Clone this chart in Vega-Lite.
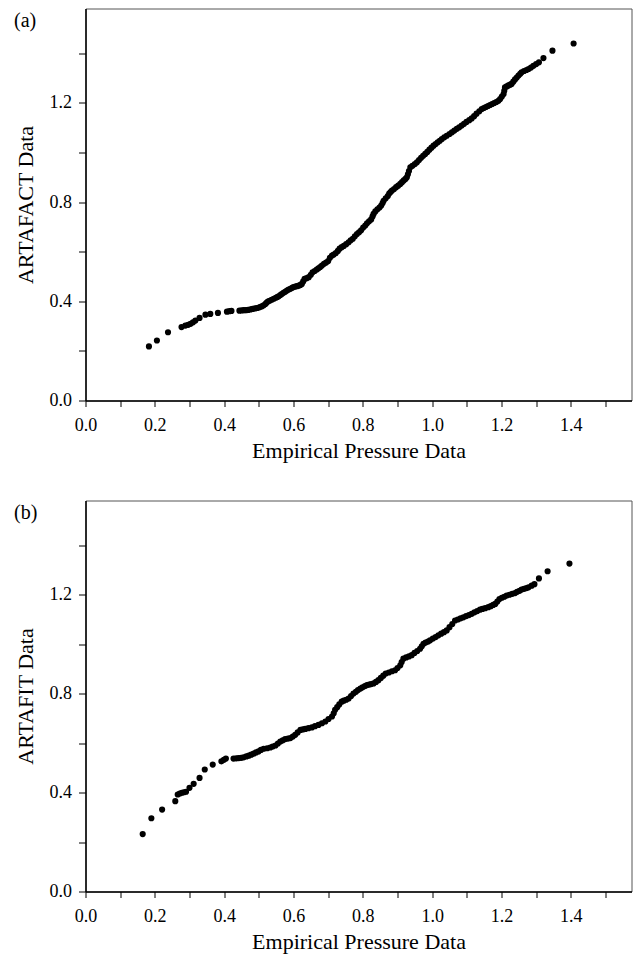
{
  "$schema": "https://vega.github.io/schema/vega-lite/v6.json",
  "padding": {"left": 13.5, "top": 7.5, "right": 0, "bottom": 0},
  "spacing": 37,
  "config": {
    "font": "Liberation Serif",
    "view": {"stroke": "#555", "strokeWidth": 1},
    "axis": {
      "domainColor": "#000", "domainWidth": 1.5, "tickColor": "#000", "tickWidth": 1, "tickSize": 6,
      "labelFont": "Liberation Serif", "labelFontSize": 18, "labelColor": "#000",
      "titleFont": "Liberation Serif", "titleFontSize": 22, "titleFontWeight": "normal", "titleColor": "#000",
      "grid": false
    },
    "title": {"font": "Liberation Serif", "fontSize": 20, "fontWeight": "normal", "color": "#000", "anchor": "start", "frame": "bounds"}
  },
  "datasets": {
    "a": [
      {"emp":0.183,"val":0.218},{"emp":0.206,"val":0.242},{"emp":0.238,"val":0.275},{"emp":0.277,"val":0.296},{"emp":0.288,"val":0.302},{"emp":0.296,"val":0.305},{"emp":0.303,"val":0.309},{"emp":0.310,"val":0.315},{"emp":0.317,"val":0.322},{"emp":0.329,"val":0.333},{"emp":0.346,"val":0.346},{"emp":0.360,"val":0.349},{"emp":0.382,"val":0.353},{"emp":0.408,"val":0.358},{"emp":0.415,"val":0.360},{"emp":0.421,"val":0.361},{"emp":0.444,"val":0.362},{"emp":0.451,"val":0.363},{"emp":0.457,"val":0.364},{"emp":0.463,"val":0.364},{"emp":0.469,"val":0.365},{"emp":0.476,"val":0.367},{"emp":0.482,"val":0.369},{"emp":0.489,"val":0.371},{"emp":0.495,"val":0.373},
      {"emp":0.500,"val":0.375},{"emp":0.505,"val":0.378},{"emp":0.509,"val":0.380},{"emp":0.514,"val":0.384},{"emp":0.519,"val":0.389},{"emp":0.522,"val":0.394},{"emp":0.526,"val":0.399},{"emp":0.531,"val":0.402},{"emp":0.537,"val":0.406},{"emp":0.543,"val":0.410},{"emp":0.549,"val":0.414},{"emp":0.553,"val":0.417},{"emp":0.557,"val":0.420},{"emp":0.562,"val":0.425},{"emp":0.566,"val":0.429},{"emp":0.571,"val":0.434},{"emp":0.576,"val":0.438},{"emp":0.581,"val":0.443},{"emp":0.586,"val":0.447},{"emp":0.591,"val":0.450},{"emp":0.596,"val":0.454},{"emp":0.600,"val":0.457},{"emp":0.605,"val":0.459},{"emp":0.610,"val":0.461},{"emp":0.615,"val":0.463},{"emp":0.620,"val":0.466},{"emp":0.624,"val":0.470},{"emp":0.628,"val":0.480},{"emp":0.632,"val":0.490},{"emp":0.638,"val":0.493},{"emp":0.644,"val":0.497},{"emp":0.650,"val":0.507},{"emp":0.655,"val":0.517},{"emp":0.661,"val":0.522},{"emp":0.667,"val":0.528},{"emp":0.672,"val":0.533},{"emp":0.677,"val":0.538},{"emp":0.682,"val":0.544},{"emp":0.688,"val":0.551},{"emp":0.694,"val":0.556},{"emp":0.700,"val":0.562},{"emp":0.705,"val":0.575},{"emp":0.711,"val":0.584},{"emp":0.716,"val":0.588},{"emp":0.722,"val":0.594},{"emp":0.728,"val":0.603},{"emp":0.733,"val":0.612},{"emp":0.739,"val":0.618},{"emp":0.745,"val":0.623},{"emp":0.752,"val":0.630},{"emp":0.759,"val":0.638},{"emp":0.765,"val":0.646},{"emp":0.771,"val":0.652},{"emp":0.777,"val":0.662},{"emp":0.783,"val":0.671},{"emp":0.789,"val":0.678},{"emp":0.795,"val":0.686},{"emp":0.801,"val":0.697},{"emp":0.807,"val":0.705},{"emp":0.812,"val":0.714},{"emp":0.818,"val":0.722},{"emp":0.824,"val":0.730},{"emp":0.828,"val":0.742},{"emp":0.831,"val":0.752},{"emp":0.836,"val":0.762},{"emp":0.842,"val":0.771},{"emp":0.848,"val":0.778},{"emp":0.853,"val":0.786},{"emp":0.857,"val":0.796},{"emp":0.860,"val":0.805},{"emp":0.866,"val":0.815},{"emp":0.872,"val":0.824},{"emp":0.876,"val":0.834},{"emp":0.880,"val":0.840},{"emp":0.884,"val":0.846},{"emp":0.890,"val":0.852},{"emp":0.896,"val":0.860},{"emp":0.902,"val":0.866},{"emp":0.908,"val":0.873},{"emp":0.913,"val":0.880},{"emp":0.918,"val":0.887},{"emp":0.923,"val":0.893},{"emp":0.927,"val":0.900},{"emp":0.930,"val":0.912},{"emp":0.933,"val":0.925},{"emp":0.937,"val":0.940},{"emp":0.943,"val":0.946},{"emp":0.950,"val":0.953},{"emp":0.956,"val":0.960},{"emp":0.962,"val":0.969},{"emp":0.968,"val":0.978},{"emp":0.974,"val":0.986},{"emp":0.980,"val":0.994},{"emp":0.986,"val":1.002},{"emp":0.992,"val":1.011},{"emp":0.998,"val":1.019},{"emp":1.004,"val":1.027},{"emp":1.010,"val":1.034},{"emp":1.016,"val":1.041},{"emp":1.022,"val":1.047},{"emp":1.028,"val":1.054},{"emp":1.035,"val":1.061},{"emp":1.042,"val":1.067},{"emp":1.050,"val":1.074},{"emp":1.057,"val":1.081},{"emp":1.064,"val":1.088},{"emp":1.071,"val":1.095},{"emp":1.078,"val":1.101},{"emp":1.085,"val":1.108},{"emp":1.092,"val":1.115},{"emp":1.099,"val":1.123},{"emp":1.107,"val":1.130},{"emp":1.114,"val":1.137},{"emp":1.121,"val":1.146},{"emp":1.128,"val":1.156},{"emp":1.136,"val":1.166},{"emp":1.143,"val":1.175},{"emp":1.149,"val":1.179},{"emp":1.155,"val":1.183},{"emp":1.161,"val":1.187},{"emp":1.167,"val":1.191},{"emp":1.173,"val":1.195},{"emp":1.179,"val":1.199},{"emp":1.185,"val":1.203},{"emp":1.191,"val":1.208},{"emp":1.196,"val":1.215},{"emp":1.201,"val":1.225},{"emp":1.206,"val":1.235},{"emp":1.208,"val":1.248},{"emp":1.210,"val":1.262},{"emp":1.215,"val":1.266},{"emp":1.220,"val":1.270},{"emp":1.225,"val":1.273},{"emp":1.229,"val":1.276},{"emp":1.234,"val":1.285},{"emp":1.239,"val":1.294},{"emp":1.244,"val":1.302},{"emp":1.249,"val":1.310},{"emp":1.254,"val":1.317},{"emp":1.258,"val":1.323},{"emp":1.265,"val":1.328},{"emp":1.272,"val":1.332},{"emp":1.278,"val":1.336},{"emp":1.285,"val":1.342},{"emp":1.292,"val":1.349},{"emp":1.300,"val":1.356},{"emp":1.308,"val":1.363},{"emp":1.321,"val":1.380},{"emp":1.347,"val":1.410},{"emp":1.408,"val":1.439}
    ],
    "b": [
      {"emp":0.165,"val":0.232},{"emp":0.190,"val":0.296},{"emp":0.221,"val":0.331},{"emp":0.259,"val":0.365},{"emp":0.266,"val":0.392},{"emp":0.272,"val":0.396},{"emp":0.278,"val":0.399},{"emp":0.284,"val":0.401},{"emp":0.290,"val":0.403},{"emp":0.300,"val":0.419},{"emp":0.312,"val":0.435},{"emp":0.329,"val":0.459},{"emp":0.344,"val":0.493},{"emp":0.367,"val":0.513},{"emp":0.392,"val":0.526},{"emp":0.399,"val":0.532},{"emp":0.405,"val":0.537},{"emp":0.427,"val":0.537},{"emp":0.435,"val":0.538},{"emp":0.442,"val":0.539},{"emp":0.449,"val":0.540},{"emp":0.456,"val":0.542},{"emp":0.464,"val":0.546},{"emp":0.471,"val":0.549},{"emp":0.478,"val":0.553},{"emp":0.485,"val":0.557},{"emp":0.492,"val":0.562},{"emp":0.499,"val":0.566},{"emp":0.506,"val":0.572},{"emp":0.514,"val":0.577},{"emp":0.524,"val":0.579},{"emp":0.533,"val":0.582},{"emp":0.540,"val":0.586},{"emp":0.548,"val":0.590},{"emp":0.555,"val":0.598},{"emp":0.562,"val":0.606},{"emp":0.569,"val":0.611},{"emp":0.576,"val":0.616},{"emp":0.584,"val":0.618},{"emp":0.591,"val":0.620},{"emp":0.598,"val":0.626},{"emp":0.605,"val":0.633},{"emp":0.612,"val":0.643},{"emp":0.620,"val":0.653},{"emp":0.627,"val":0.655},{"emp":0.634,"val":0.657},{"emp":0.643,"val":0.660},{"emp":0.653,"val":0.663},{"emp":0.662,"val":0.668},{"emp":0.672,"val":0.673},{"emp":0.682,"val":0.680},{"emp":0.692,"val":0.687},{"emp":0.701,"val":0.697},{"emp":0.711,"val":0.707},{"emp":0.716,"val":0.720},{"emp":0.720,"val":0.734},{"emp":0.726,"val":0.745},{"emp":0.732,"val":0.756},{"emp":0.739,"val":0.767},{"emp":0.745,"val":0.771},{"emp":0.752,"val":0.775},{"emp":0.759,"val":0.780},{"emp":0.766,"val":0.790},{"emp":0.773,"val":0.800},{"emp":0.780,"val":0.807},{"emp":0.786,"val":0.814},{"emp":0.793,"val":0.820},{"emp":0.799,"val":0.825},{"emp":0.806,"val":0.830},{"emp":0.812,"val":0.834},{"emp":0.818,"val":0.836},{"emp":0.824,"val":0.838},{"emp":0.831,"val":0.841},{"emp":0.838,"val":0.847},{"emp":0.845,"val":0.854},{"emp":0.852,"val":0.863},{"emp":0.859,"val":0.872},{"emp":0.866,"val":0.881},{"emp":0.875,"val":0.885},{"emp":0.884,"val":0.890},{"emp":0.893,"val":0.894},{"emp":0.900,"val":0.903},{"emp":0.908,"val":0.914},{"emp":0.912,"val":0.927},{"emp":0.917,"val":0.941},{"emp":0.925,"val":0.946},{"emp":0.933,"val":0.950},{"emp":0.941,"val":0.955},{"emp":0.949,"val":0.964},{"emp":0.957,"val":0.972},{"emp":0.965,"val":0.981},{"emp":0.970,"val":0.991},{"emp":0.975,"val":1.001},{"emp":0.981,"val":1.006},{"emp":0.988,"val":1.010},{"emp":0.994,"val":1.015},{"emp":1.002,"val":1.022},{"emp":1.010,"val":1.028},{"emp":1.018,"val":1.035},{"emp":1.026,"val":1.042},{"emp":1.034,"val":1.048},{"emp":1.042,"val":1.055},{"emp":1.050,"val":1.068},{"emp":1.058,"val":1.081},{"emp":1.066,"val":1.095},{"emp":1.074,"val":1.099},{"emp":1.082,"val":1.104},{"emp":1.090,"val":1.108},{"emp":1.098,"val":1.113},{"emp":1.106,"val":1.117},{"emp":1.114,"val":1.122},{"emp":1.122,"val":1.128},{"emp":1.130,"val":1.133},{"emp":1.138,"val":1.139},{"emp":1.145,"val":1.142},{"emp":1.153,"val":1.145},{"emp":1.162,"val":1.149},{"emp":1.169,"val":1.153},{"emp":1.176,"val":1.158},{"emp":1.182,"val":1.162},{"emp":1.188,"val":1.172},{"emp":1.194,"val":1.182},{"emp":1.201,"val":1.187},{"emp":1.208,"val":1.191},{"emp":1.215,"val":1.196},{"emp":1.223,"val":1.199},{"emp":1.231,"val":1.203},{"emp":1.239,"val":1.206},{"emp":1.245,"val":1.211},{"emp":1.252,"val":1.215},{"emp":1.258,"val":1.220},{"emp":1.265,"val":1.223},{"emp":1.272,"val":1.226},{"emp":1.278,"val":1.229},{"emp":1.287,"val":1.236},{"emp":1.295,"val":1.242},{"emp":1.308,"val":1.265},{"emp":1.333,"val":1.294},{"emp":1.396,"val":1.325}
    ]
  },
  "vconcat": [
    {
      "title": {"text": "(a)", "dy": 26},
      "width": 546, "height": 392,
      "data": {"name": "a"},
      "mark": {"type": "circle", "size": 38, "opacity": 1, "color": "#000"},
      "encoding": {
        "x": {"field": "emp", "type": "quantitative", "title": "Empirical Pressure Data",
              "scale": {"domain": [0, 1.575], "nice": false, "zero": false},
              "axis": {"values": [0,0.1,0.2,0.3,0.4,0.5,0.6,0.7,0.8,0.9,1.0,1.1,1.2,1.3,1.4,1.5], "labelExpr": "round(datum.value*10) % 2 == 0 ? format(datum.value, '.1f') : ''", "labelPadding": 10, "titlePadding": 6, "labelFlush": false}},
        "y": {"field": "val", "type": "quantitative", "title": "ARTAFACT Data",
              "scale": {"domain": [0, 1.58], "nice": false, "zero": false},
              "axis": {"values": [0,0.2,0.4,0.6,0.8,1.0,1.2,1.4], "labelExpr": "round(datum.value*10) % 4 == 0 ? format(datum.value, '.1f') : ''", "tickSize": 7, "labelPadding": 7, "titlePadding": 12, "labelFlush": false}}
      }
    },
    {
      "title": {"text": "(b)", "dy": 26},
      "width": 546, "height": 391,
      "data": {"name": "b"},
      "mark": {"type": "circle", "size": 38, "opacity": 1, "color": "#000"},
      "encoding": {
        "x": {"field": "emp", "type": "quantitative", "title": "Empirical Pressure Data",
              "scale": {"domain": [0, 1.575], "nice": false, "zero": false},
              "axis": {"values": [0,0.1,0.2,0.3,0.4,0.5,0.6,0.7,0.8,0.9,1.0,1.1,1.2,1.3,1.4,1.5], "labelExpr": "round(datum.value*10) % 2 == 0 ? format(datum.value, '.1f') : ''", "labelPadding": 10, "titlePadding": 6, "labelFlush": false}},
        "y": {"field": "val", "type": "quantitative", "title": "ARTAFIT Data",
              "scale": {"domain": [0, 1.58], "nice": false, "zero": false},
              "axis": {"values": [0,0.2,0.4,0.6,0.8,1.0,1.2,1.4], "labelExpr": "round(datum.value*10) % 4 == 0 ? format(datum.value, '.1f') : ''", "tickSize": 7, "labelPadding": 7, "titlePadding": 12, "labelFlush": false}}
      }
    }
  ]
}
